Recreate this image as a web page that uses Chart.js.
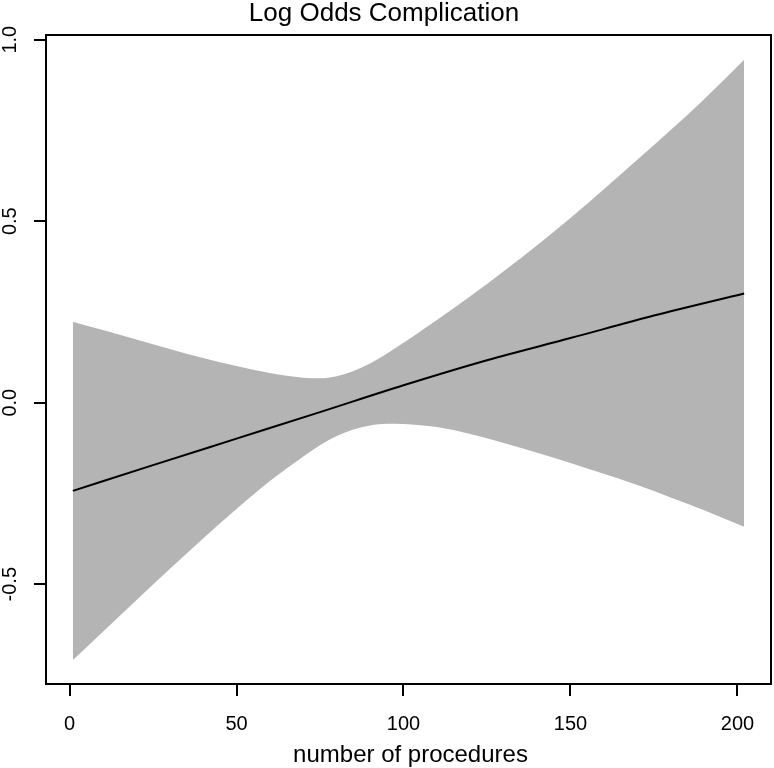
<!DOCTYPE html>
<html>
<head>
<meta charset="utf-8">
<script src="https://cdn.jsdelivr.net/npm/chart.js@4"></script>
<style>
  body { margin: 0; background: #fff; }
  canvas { display: block; }
</style>
</head>
<body>
<canvas id="logOddsChart" width="774" height="768"></canvas>
<script>
// confidence band
const bandX = [1, 10, 20, 30, 40, 50, 60, 70, 75, 80, 85, 90, 95, 100, 105, 110, 120, 130, 140, 150, 160, 170, 180, 190, 202];
const upperCI = [0.223, 0.200, 0.174, 0.148, 0.123, 0.101, 0.082, 0.069, 0.067, 0.073, 0.087, 0.108, 0.135, 0.165, 0.196, 0.228, 0.293, 0.362, 0.434, 0.509, 0.588, 0.669, 0.751, 0.836, 0.945];
const lowerCI = [-0.709, -0.631, -0.544, -0.458, -0.374, -0.293, -0.216, -0.148, -0.117, -0.092, -0.074, -0.063, -0.058, -0.059, -0.062, -0.067, -0.086, -0.111, -0.138, -0.166, -0.196, -0.227, -0.261, -0.296, -0.342];

// fitted log odds
const fitX = [1, 25, 50, 75, 100, 125, 150, 175, 202];
const fitY = [-0.243, -0.172, -0.099, -0.026, 0.048, 0.117, 0.178, 0.240, 0.301];

const xTicks = [0, 50, 100, 150, 200];
const yTicks = [-0.5, 0, 0.5, 1.0];
const yTickLabels = ["-0.5", "0.0", "0.5", "1.0"];

const FONT = "'Liberation Sans', Arial, sans-serif";

function toPoints(xs, ys) {
    return xs.map((x, i) => ({ x: x, y: ys[i] }));
}

// R style box, title, axis title and rotated y labels
const rDecor = {
    id: "rDecor",
    afterDraw(chart) {
        const ctx = chart.ctx;
        const area = chart.chartArea;
        const yScale = chart.scales.y;
        ctx.save();
        ctx.strokeStyle = "#000";
        ctx.lineWidth = 2;
        ctx.strokeRect(area.left, area.top, area.right - area.left, area.bottom - area.top);

        ctx.fillStyle = "#000";
        ctx.textAlign = "center";
        ctx.textBaseline = "alphabetic";
        ctx.font = "26px " + FONT;
        ctx.fillText("Log Odds Complication", 384, 21);

        ctx.font = "24px " + FONT;
        ctx.fillText("number of procedures", (area.left + area.right) / 2 + 2, 762);

        ctx.font = "20px " + FONT;
        yTicks.forEach((v, i) => {
            ctx.save();
            ctx.translate(16, yScale.getPixelForValue(v));
            ctx.rotate(-Math.PI / 2);
            ctx.fillText(yTickLabels[i], 0, 0);
            ctx.restore();
        });
        ctx.restore();
    }
};

var ctx = document.getElementById("logOddsChart").getContext("2d");
var logOddsChart = new Chart(ctx, {
    type: "line",
    data: {
        datasets: [{
            label: "upper",
            data: toPoints(bandX, upperCI),
            borderWidth: 0,
            borderColor: "rgba(0,0,0,0)",
            backgroundColor: "#b4b4b4",
            fill: "+1",
            pointRadius: 0,
            cubicInterpolationMode: "monotone",
            order: 1
        }, {
            label: "lower",
            data: toPoints(bandX, lowerCI),
            borderWidth: 0,
            borderColor: "rgba(0,0,0,0)",
            fill: false,
            pointRadius: 0,
            cubicInterpolationMode: "monotone",
            order: 2
        }, {
            label: "fit",
            data: toPoints(fitX, fitY),
            borderWidth: 2,
            borderColor: "#000",
            fill: false,
            pointRadius: 0,
            cubicInterpolationMode: "monotone",
            order: 0
        }]
    },
    options: {
        responsive: false,
        animation: false,
        events: [],
        layout: { padding: { top: 35, right: 3, left: 0, bottom: 0 } },
        plugins: {
            legend: { display: false },
            title: { display: false },
            tooltip: { enabled: false }
        },
        scales: {
            x: {
                type: "linear",
                min: -7.04,
                max: 210.04,
                afterBuildTicks: scale => {
                    scale.ticks = xTicks.map(v => ({ value: v }));
                },
                afterFit: scale => { scale.height = 84; },
                grid: { drawOnChartArea: false, drawTicks: true, tickLength: 12, color: "#000", lineWidth: 2 },
                border: { display: true, color: "#000", width: 2 },
                ticks: {
                    color: "#000",
                    font: { family: FONT, size: 20 },
                    padding: 16,
                    maxRotation: 0,
                    callback: v => String(v)
                }
            },
            y: {
                type: "linear",
                min: -0.775,
                max: 1.013,
                afterBuildTicks: scale => {
                    scale.ticks = yTicks.map(v => ({ value: v }));
                },
                afterFit: scale => { scale.width = 46; },
                grid: { drawOnChartArea: false, drawTicks: true, tickLength: 12, color: "#000", lineWidth: 2 },
                border: { display: true, color: "#000", width: 2 },
                ticks: { display: false }
            }
        }
    },
    plugins: [rDecor]
});
</script>
</body>
</html>
